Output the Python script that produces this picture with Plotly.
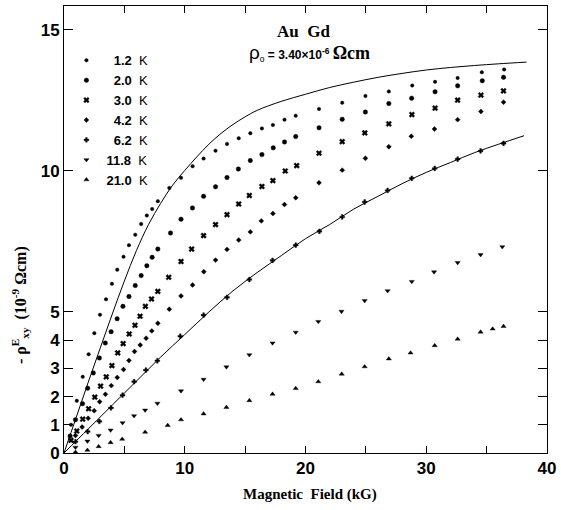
import plotly.graph_objects as go

# ---------------- data ----------------
temps = ["1.2", "2.0", "3.0", "4.2", "6.2", "11.8", "21.0"]

T12_x = [0.58, 1.06, 1.55, 2.04, 2.51, 2.98, 3.48, 3.97, 4.41, 4.93, 5.38, 5.9, 6.39, 6.86, 7.3, 7.77, 8.72, 9.69, 10.65,
         11.56, 12.55, 13.5, 14.47, 15.43, 16.39, 17.3, 18.26, 19.19, 21.12, 23.04, 24.96, 26.9, 28.84, 30.73, 32.6, 34.6, 36.45]
T12_y = [1.0, 1.85, 2.7, 3.5, 4.25, 4.9, 5.45, 6.0, 6.5, 6.96, 7.37, 7.74, 8.12, 8.42, 8.65, 8.93, 9.4, 9.76, 10.17,
         10.44, 10.72, 10.96, 11.16, 11.34, 11.51, 11.63, 11.82, 11.96, 12.2, 12.42, 12.66, 12.82, 13.03, 13.16, 13.3, 13.5, 13.6]

T20_x = [0.5, 0.95, 1.53, 1.96, 2.43, 2.93, 3.42, 3.9, 4.4, 4.88, 5.38, 5.9, 6.39, 6.86, 7.3, 7.77, 8.82, 9.69, 10.64,
         11.56, 12.55, 13.5, 14.44, 15.43, 16.39, 17.33, 18.26, 19.19, 21.12, 23.04, 24.96, 26.9, 28.79, 30.73, 32.6, 34.64, 36.4]
T20_y = [0.6, 1.18, 1.75, 2.3, 2.84, 3.37, 3.9, 4.3, 4.76, 5.2, 5.55, 5.94, 6.29, 6.64, 6.94, 7.23, 7.8, 8.29, 8.69,
         9.1, 9.44, 9.77, 10.07, 10.37, 10.58, 10.82, 11.03, 11.22, 11.53, 11.83, 12.09, 12.39, 12.58, 12.81, 13.02, 13.2, 13.32]

T30_x = [0.58, 1.06, 1.55, 2.04, 2.55, 3.03, 3.5, 3.97, 4.45, 4.9, 5.4, 5.88, 6.3, 6.74, 7.25, 7.77, 8.67, 9.69, 10.57,
         11.56, 12.55, 13.5, 14.47, 15.35, 16.39, 17.3, 18.32, 19.27, 21.12, 23.04, 24.91, 26.9, 28.81, 30.73, 32.6, 34.53, 36.4]
T30_y = [0.45, 0.78, 1.2, 1.57, 1.98, 2.37, 2.7, 3.1, 3.55, 3.88, 4.22, 4.53, 4.85, 5.2, 5.46, 5.73, 6.23, 6.79, 7.23,
         7.71, 8.1, 8.45, 8.83, 9.13, 9.45, 9.66, 10.0, 10.19, 10.63, 11.04, 11.35, 11.67, 12.0, 12.23, 12.51, 12.69, 12.84]

T42_x = [0.95, 1.5, 2.0, 2.5, 2.95, 3.43, 3.92, 4.41, 4.93, 5.38, 5.84, 6.31, 6.8, 7.27, 7.77, 8.72, 9.69, 10.65,
         11.58, 12.55, 13.5, 14.47, 15.43, 16.34, 17.3, 18.26, 19.19, 21.12, 23.04, 24.96, 26.9, 28.76, 30.68, 32.6, 34.53, 36.4]
T42_y = [0.62, 0.92, 1.23, 1.5, 1.82, 2.08, 2.39, 2.68, 2.96, 3.28, 3.6, 3.83, 4.07, 4.33, 4.6, 5.1, 5.57, 5.96,
         6.43, 6.84, 7.22, 7.55, 7.84, 8.23, 8.49, 8.81, 9.05, 9.58, 10.03, 10.45, 10.86, 11.23, 11.49, 11.82, 12.11, 12.44]

T62_x = [0.95, 1.96, 2.93, 3.89, 4.85, 5.81, 6.78, 7.73, 9.63, 11.56, 13.5, 15.35, 17.27, 19.19, 21.15, 23.04, 24.9,
         26.8, 28.8, 30.7, 32.6, 34.5, 36.4]
T62_y = [0.4, 0.76, 1.12, 1.6, 2.05, 2.53, 2.94, 3.27, 4.14, 4.89, 5.52, 6.15, 6.83, 7.37, 7.86, 8.37, 8.9,
         9.31, 9.74, 10.09, 10.42, 10.71, 10.98]

T118_x = [0.95, 1.94, 2.87, 3.86, 4.85, 5.8, 6.72, 7.74, 9.69, 11.56, 13.45, 15.35, 17.27, 19.19, 21.06, 22.98, 24.9,
          26.8, 28.8, 30.65, 32.6, 34.5, 36.3]
T118_y = [0.2, 0.42, 0.62, 0.81, 1.07, 1.32, 1.52, 1.76, 2.2, 2.61, 3.05, 3.48, 3.9, 4.28, 4.66, 5.02, 5.4,
          5.75, 6.08, 6.42, 6.75, 7.03, 7.31]

T210_x = [0.95, 1.94, 2.87, 3.86, 4.82, 6.72, 8.59, 9.69, 11.56, 13.45, 15.35, 17.27, 19.19, 21.06, 23.0, 24.9,
          26.9, 28.7, 30.7, 32.6, 34.5, 35.5, 36.4]
T210_y = [0.03, 0.1, 0.23, 0.37, 0.49, 0.74, 0.98, 1.18, 1.39, 1.62, 1.86, 2.09, 2.29, 2.53, 2.8, 3.06,
          3.34, 3.55, 3.81, 4.04, 4.29, 4.4, 4.49]

# theoretical curves
upper_x = [0, 1, 2, 3, 4, 5, 6, 7, 8, 9, 10, 11, 12, 13, 14, 15, 16, 18, 20, 22, 24, 26, 28, 30, 32, 34, 36, 38.3]
upper_y = [0, 1.25, 2.5, 3.72, 4.93, 6.1, 7.18, 8.1, 8.85, 9.5, 10.02, 10.5, 10.95, 11.33, 11.65, 11.92, 12.15,
           12.47, 12.72, 12.96, 13.15, 13.32, 13.46, 13.58, 13.67, 13.74, 13.8, 13.86]
lower_x = [0, 2, 4, 6, 8, 10, 12, 14, 16, 18, 20, 22, 24, 26, 28, 30, 32, 34, 36, 38.1]
lower_y = [0, 0.85, 1.7, 2.55, 3.4, 4.2, 5.0, 5.75, 6.4, 7.0, 7.6, 8.1, 8.65, 9.1, 9.55, 9.95, 10.3, 10.65, 10.95, 11.25]

x_ticks = [0, 10, 20, 30, 40]
y_ticks = [0, 1, 2, 3, 4, 5, 10, 15]

series = [
    (temps[0], T12_x, T12_y, dict(symbol="circle", size=3.5)),
    (temps[1], T20_x, T20_y, dict(symbol="circle", size=4.5)),
    (temps[2], T30_x, T30_y, dict(symbol="x", size=5)),
    (temps[3], T42_x, T42_y, dict(symbol="diamond", size=3.8)),
    (temps[4], T62_x, T62_y, dict(symbol="cross", size=4)),
    (temps[5], T118_x, T118_y, dict(symbol="triangle-down", size=4.5)),
    (temps[6], T210_x, T210_y, dict(symbol="triangle-up", size=4.5)),
]

fig = go.Figure()
fig.add_trace(go.Scatter(x=upper_x, y=upper_y, mode="lines", line=dict(color="black", width=1, shape="spline"),
                         showlegend=False, hoverinfo="skip"))
fig.add_trace(go.Scatter(x=lower_x, y=lower_y, mode="lines", line=dict(color="black", width=1, shape="spline"),
                         showlegend=False, hoverinfo="skip"))

for t, xs, ys, mk in series:
    pad = "&nbsp;&nbsp;" if len(t) == 3 else ""
    fig.add_trace(go.Scatter(
        x=xs, y=ys, mode="markers", name=f"{pad}<b>{t}</b>&nbsp;&nbsp;K",
        marker=dict(color="black", line=dict(width=0.4, color="black"), **mk),
    ))

fig.update_layout(
    width=561, height=510,
    margin=dict(l=64, r=11, t=5, b=57),
    paper_bgcolor="white", plot_bgcolor="white",
    font=dict(family="Liberation Sans, Arial", color="#000000"),
    showlegend=True,
    legend=dict(x=0.005, y=0.912, xanchor="left", yanchor="top", bgcolor="rgba(0,0,0,0)",
                font=dict(size=13, family="Liberation Sans, Arial", color="#000000"), tracegroupgap=0,
                itemsizing="trace"),
    xaxis=dict(range=[0, 40], tickvals=x_ticks, ticks="inside", ticklen=7,
               minor=dict(dtick=5, ticks="inside", ticklen=7, tickcolor="black", showgrid=False),
               showline=True, linecolor="black", linewidth=1, mirror="ticks", showgrid=False, zeroline=False,
               tickfont=dict(size=17, weight="bold", family="Liberation Sans, Arial", color="#000000"),
               tickcolor="black"),
    yaxis=dict(range=[0, 15.85], tickvals=y_ticks, ticks="inside", ticklen=9,
               showline=True, linecolor="black", linewidth=1, mirror="ticks", showgrid=False, zeroline=False,
               tickfont=dict(size=17, weight="bold", family="Liberation Sans, Arial", color="#000000"),
               tickcolor="black"),
)

fig.add_annotation(x=19.8, y=14.96, xref="x", yref="y", showarrow=False,
                   text="<b>Au  Gd</b>",
                   font=dict(size=17, family="Liberation Serif, Times New Roman", color="#000000"))
fig.add_annotation(x=20.3, y=14.18, xref="x", yref="y", showarrow=False,
                   text="<span style='font-size:19px'>ρ</span><sub>o</sub> <b>= 3.40×10<sup>-6</sup></b> "
                        "<span style='font-family:Liberation Serif;font-size:18px'><b>Ωcm</b></span>",
                   font=dict(size=12, family="Liberation Sans, Arial", color="#000000"))
fig.add_annotation(x=0.51, y=-0.092, xref="paper", yref="paper", showarrow=False, yanchor="middle",
                   text="<b>Magnetic  Field (kG)</b>",
                   font=dict(size=15, family="Liberation Serif, Times New Roman", color="#000000"))
fig.add_annotation(x=-0.09, y=0.33, xref="paper", yref="paper", showarrow=False, textangle=-90,
                   xanchor="center", yanchor="middle",
                   text="<b>- ρ<sup>E</sup><sub>xy</sub>  (10<sup>-9</sup> Ωcm)</b>",
                   font=dict(size=16, family="Liberation Serif, Times New Roman", color="#000000"))

fig.write_html("out.html")
